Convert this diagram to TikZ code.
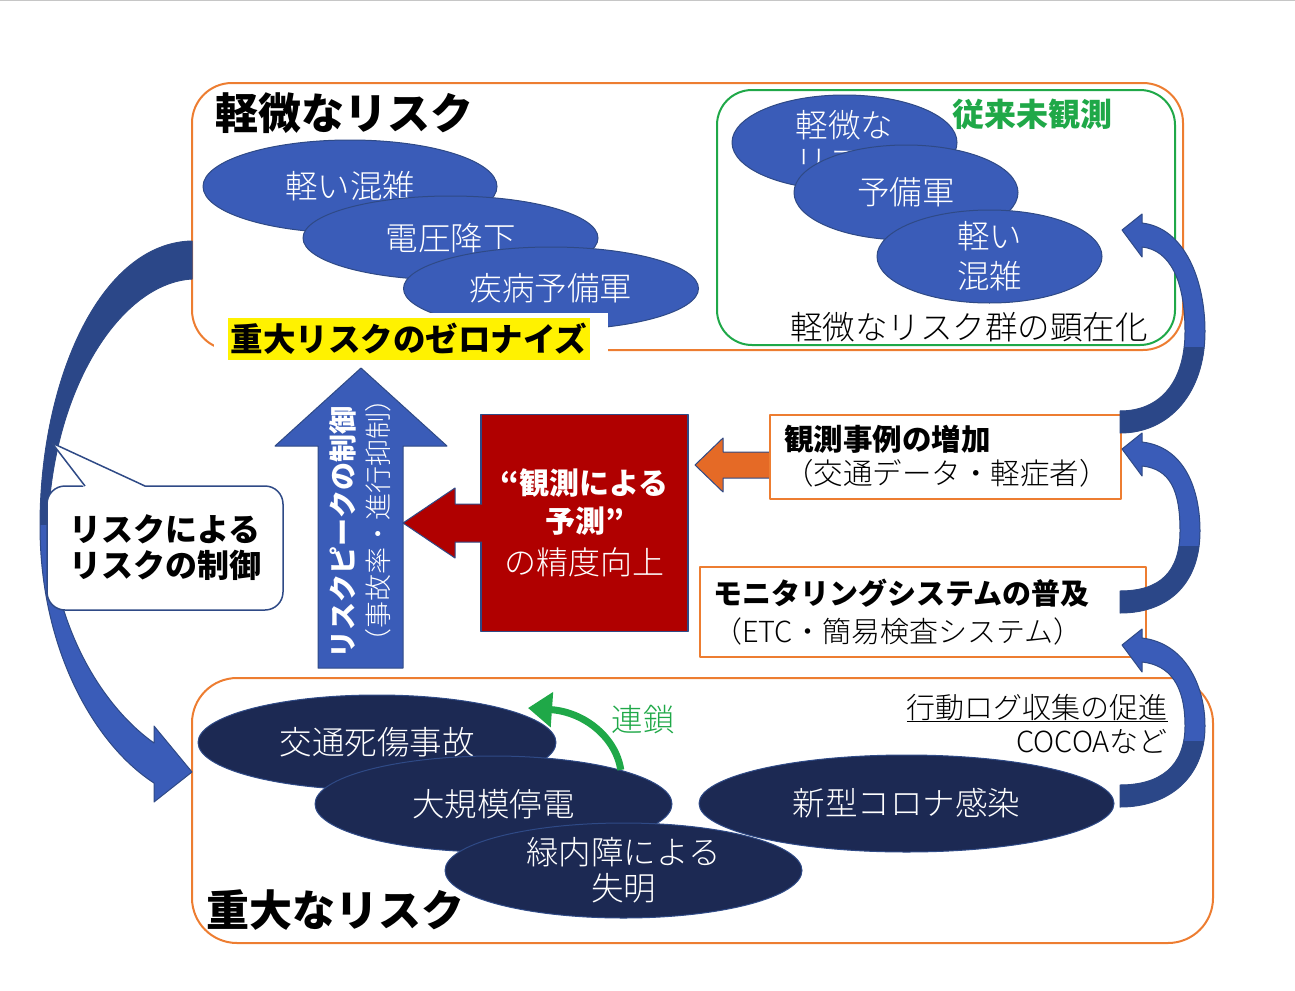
\documentclass[tikz,border=0pt]{standalone}
\usepackage{fontspec}
\setmainfont{Noto Sans CJK JP}
\IfFontExistsTF{Noto Sans CJK JP Light}{\newfontfamily\thinfont{Noto Sans CJK JP Light}}{\newfontfamily\thinfont{Noto Sans CJK JP}}
\usetikzlibrary{shapes.geometric,positioning,arrows.meta}
\definecolor{frameorange}{HTML}{ED7D31}
\definecolor{unseengreen}{HTML}{1FA848}
\definecolor{minorblue}{HTML}{3A5CB8}
\definecolor{shadeblue}{HTML}{2B4788}
\definecolor{edgeblue}{HTML}{2F4A86}
\definecolor{majornavy}{HTML}{1C2953}
\definecolor{predred}{HTML}{B00000}
\definecolor{pushorange}{HTML}{E56A26}
\newcommand{\fsz}[2]{\fontsize{#1}{#2}\selectfont}
\begin{document}
\begin{tikzpicture}[x=1pt, y=-1pt, line join=round,
	frame/.style={draw=frameorange, line width=2pt},
	minor/.style={ellipse, draw=edgeblue, line width=1pt, fill=minorblue, text=white, inner sep=0pt, font=\thinfont\fsz{32.5}{36}},
	major/.style={ellipse, draw=edgeblue, line width=1pt, fill=majornavy, text=white, inner sep=0pt, font=\thinfont\fsz{32.5}{36}},
	ellipsetext/.style={text=white, inner sep=0pt, align=center, font=\thinfont\fsz{32.5}{36}},
	infobox/.style={draw=frameorange, line width=2pt, fill=white, align=left, inner sep=0pt},
	heading/.style={anchor=west, inner sep=0pt, font=\fsz{43}{48}\bfseries},
	blockarrow/.style={draw=edgeblue, line width=1pt}]
	\useasboundingbox (0,0) rectangle (1295,990);
	\draw[gray!45, line width=1pt] (0,0.5) -- (1295,0.5);
	% minor risks
	\draw[frame, rounded corners=40pt] (192,83) rectangle (1183,350);
	\draw[draw=unseengreen, line width=2pt, rounded corners=35pt] (717,90) rectangle (1175,345);
	\node[heading] (minortitle) at (215,113) {軽微なリスク};
	\node[minor, minimum width=294, minimum height=93] (congestion) at (350,186.5) {軽い混雑};
	\node[minor, minimum width=295, minimum height=84] (voltage) at (450.5,238) {電圧降下};
	\node[minor, minimum width=295, minimum height=83] (prediabetes) at (551,288.5) {疾病予備軍};
	\node[minor, minimum width=225, minimum height=95, label={[ellipsetext]center:軽微な\\リスク}] (hidden1) at (844.5,142.5) {};
	\node[minor, minimum width=224, minimum height=95] (hidden2) at (906,192.5) {予備軍};
	\node[minor, minimum width=225, minimum height=93, label={[ellipsetext, font=\thinfont\fsz{32.5}{40}]center:軽い\\混雑}] (hidden3) at (989.5,256.5) {};
	\node[text=unseengreen, font=\fsz{32}{36}\bfseries, inner sep=0pt] (unseen) at (1032,114) {従来未観測};
	\node[font=\thinfont\fsz{32.5}{36}, inner sep=0pt] (surface) at (969,327) {軽微なリスク群の顕在化};
	\node[fill=white, minimum width=394, minimum height=49, inner sep=0pt] (zeroback) at (411,337.5) {};
	\node[fill=yellow, minimum width=362, minimum height=42, inner sep=0pt, font=\fsz{32.5}{36}\bfseries] (zero) at (409,339) {重大リスクのゼロナイズ};
	% peak control
	\path[blockarrow, fill=minorblue] (318,668) -- (318,446) -- (275,446) -- (361,368) -- (447,446) -- (403,446) -- (403,668) -- cycle;
	\node[rotate=90, text=white, inner sep=0pt, font=\fsz{28}{32}\bfseries] (peak) at (343,532) {リスクピークの制御};
	\node[rotate=90, text=white, inner sep=0pt, font=\thinfont\fsz{27}{30}] (peaknote) at (378,520) {（事故率・進行抑制）};
	\node[draw=edgeblue, line width=1.5pt, fill=predred, text=white, minimum width=207, minimum height=217, align=center, font=\fsz{30}{38}\bfseries] (pred) at (584.5,523) {“観測による\\予測”\\[4pt]{\mdseries\thinfont\fsz{32}{38}の精度向上}};
	\path[blockarrow, fill=predred] (482,504) -- (455,504) -- (455,488) -- (403,523) -- (455,558) -- (455,542) -- (482,542);
	\path[blockarrow, fill=pushorange] (770,452) -- (723,452) -- (723,438) -- (695,465) -- (723,492) -- (723,478) -- (770,478);
	\node[infobox, minimum width=351, minimum height=84, text width=323, font=\fsz{29.5}{34}] (obs) at (945.5,456.5) {{\bfseries 観測事例の増加}\\{\thinfont （交通データ・軽症者）}};
	\node[infobox, minimum width=446, minimum height=90, text width=420, font=\fsz{29}{38}] (monitor) at (923,612) {{\bfseries モニタリングシステムの普及}\\{\thinfont （ETC・簡易検査システム）}};
	% major risks
	\draw[frame, rounded corners=45pt] (192,678) rectangle (1213,943);
	\node[major, minimum width=358, minimum height=95] (accident) at (377,742.5) {交通死傷事故};
	\node[major, minimum width=357, minimum height=96] (blackout) at (493.5,804) {大規模停電};
	\node[major, minimum width=357, minimum height=95, label={[ellipsetext]center:緑内障による\\失明}] (glaucoma) at (623.5,870.5) {};
	\node[major, minimum width=415, minimum height=97] (corona) at (906.5,803.5) {新型コロナ感染};
	\node[heading] (majortitle) at (206,910) {重大なリスク};
	\node[anchor=east, inner sep=0pt, font=\thinfont\fsz{29}{34}] (logging) at (1168,708) {\underline{行動ログ収集の促進}};
	\node[anchor=east, inner sep=0pt, font=\thinfont\fsz{29}{34}] (cocoa) at (1168,742) {COCOAなど};
	\coordinate (chaintip) at (528,708);
	\draw[unseengreen, line width=7pt, -{Triangle[length=24pt,width=34pt]}] (blackout.15) .. controls (616,738) and (585,712) .. (chaintip);
	\node[text=unseengreen, inner sep=0pt, font=\thinfont\fsz{31.5}{36}] (chainlabel) at (643,720) {連鎖};
	% risk controls risk
	\path[blockarrow, fill=minorblue, path picture={\fill[shadeblue] (0,0) rectangle (200,525);}]
		(192,241) .. controls (100,243) and (40,380) .. (40,526)
		.. controls (40,650) and (95,745) .. (154,783)
		-- (154,802) -- (192,772) -- (154,726) -- (154,743)
		.. controls (110,712) and (56,640) .. (48,526)
		.. controls (52,390) and (120,283) .. (192,279) -- cycle;
	\node[draw=edgeblue, line width=1.5pt, fill=white, rounded corners=18pt, minimum width=236, minimum height=124, inner sep=0pt, align=center, font=\fsz{32}{36}\bfseries] (callout) at (165,548) {リスクによる\\リスクの制御};
	\coordinate (calltip) at (52,443);
	\fill[white] ([xshift=-81pt,yshift=-2pt]callout.north) -- (calltip) -- ([xshift=-19pt,yshift=-2pt]callout.north) -- cycle;
	\draw[edgeblue, line width=1.5pt] ([xshift=-80pt,yshift=-0.75pt]callout.north) -- (calltip) -- ([xshift=-20pt,yshift=-0.75pt]callout.north);
	% feedback loop
	\foreach \tipy/\taily/\outx in {230/433/1205, 449/613/1200, 645/807/1205}{
		\pgfmathsetmacro\midy{(\tipy+\taily)/2}
		\path[blockarrow, fill=minorblue, path picture={\fill[shadeblue] (1100,\midy+15) rectangle (1240,1000);}]
			(1142,{\tipy-7}) .. controls (1185,{\tipy-2}) and (\outx,{(\tipy+\midy)/2}) .. (\outx,\midy)
			.. controls (\outx,{(\midy+\taily)/2+10}) and (1170,\taily) .. (1120,\taily)
			-- (1120,{\taily-22}) .. controls (1160,{\taily-22}) and ({\outx-20},{(\midy+\taily)/2}) .. ({\outx-20},\midy)
			.. controls ({\outx-20},{(\tipy+\midy)/2}) and (1170,{\tipy+20}) .. (1142,{\tipy+17})
			-- (1142,{\tipy+27}) -- (1122,\tipy) -- (1142,{\tipy-16}) -- cycle;
	}
\end{tikzpicture}
\end{document}
